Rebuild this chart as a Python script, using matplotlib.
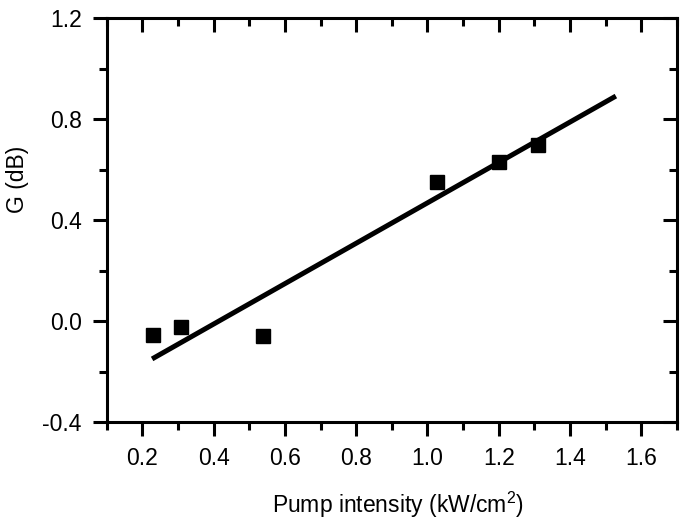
import matplotlib
matplotlib.use('Agg')
import matplotlib.pyplot as plt
from matplotlib.ticker import MultipleLocator

plt.rcParams['font.family'] = ['Liberation Sans', 'DejaVu Sans']
plt.rcParams['mathtext.fontset'] = 'custom'
plt.rcParams['mathtext.rm'] = 'Liberation Sans'

# measured points
pump = [0.23, 0.308, 0.538, 1.028, 1.2, 1.31]
gain = [-0.055, -0.022, -0.06, 0.552, 0.63, 0.697]

# linear fit, drawn from its end points
fit_x = [0.227, 1.529]
fit_y = [-0.15, 0.891]

xticks = [0.2, 0.4, 0.6, 0.8, 1.0, 1.2, 1.4, 1.6]
yticks = [-0.4, 0.0, 0.4, 0.8, 1.2]

fig = plt.figure(figsize=(6.85, 5.23), dpi=100)
ax = fig.add_axes([0.156, 0.193, 0.832, 0.7725])

ax.plot(pump, gain, 's', color='black', markersize=10.5, zorder=3)
ax.plot(fit_x, fit_y, '-', color='black', linewidth=3.6, solid_capstyle='butt')

ax.set_xlim(0.1, 1.7)
ax.set_ylim(-0.4, 1.2)
ax.set_xticks(xticks)
ax.set_xticklabels(['%.1f' % v for v in xticks])
ax.set_yticks(yticks)
ax.set_yticklabels(['%.1f' % v for v in yticks])
ax.xaxis.set_minor_locator(MultipleLocator(0.1))
ax.yaxis.set_minor_locator(MultipleLocator(0.2))

for s in ax.spines.values():
    s.set_linewidth(2.2)

ax.tick_params(which='major', direction='out', length=10, width=2.2, labelsize=16.5, pad=8)
ax.tick_params(which='minor', direction='out', length=6, width=2.2)
ax.tick_params(which='both', top=True, right=True)
# ticks on top/right point inward
for t in ax.xaxis.get_major_ticks() + ax.xaxis.get_minor_ticks():
    t.tick2line.set_marker(3)
for t in ax.yaxis.get_major_ticks() + ax.yaxis.get_minor_ticks():
    t.tick2line.set_marker(0)

ax.set_xlabel('Pump intensity (kW/cm$^{2}$)', fontsize=16.5)
ax.set_ylabel('G (dB)', fontsize=16.5)
ax.xaxis.set_label_coords(0.51, -0.168)
ax.yaxis.set_label_coords(-0.137, 0.6)

fig.savefig('out.png', dpi=100)
